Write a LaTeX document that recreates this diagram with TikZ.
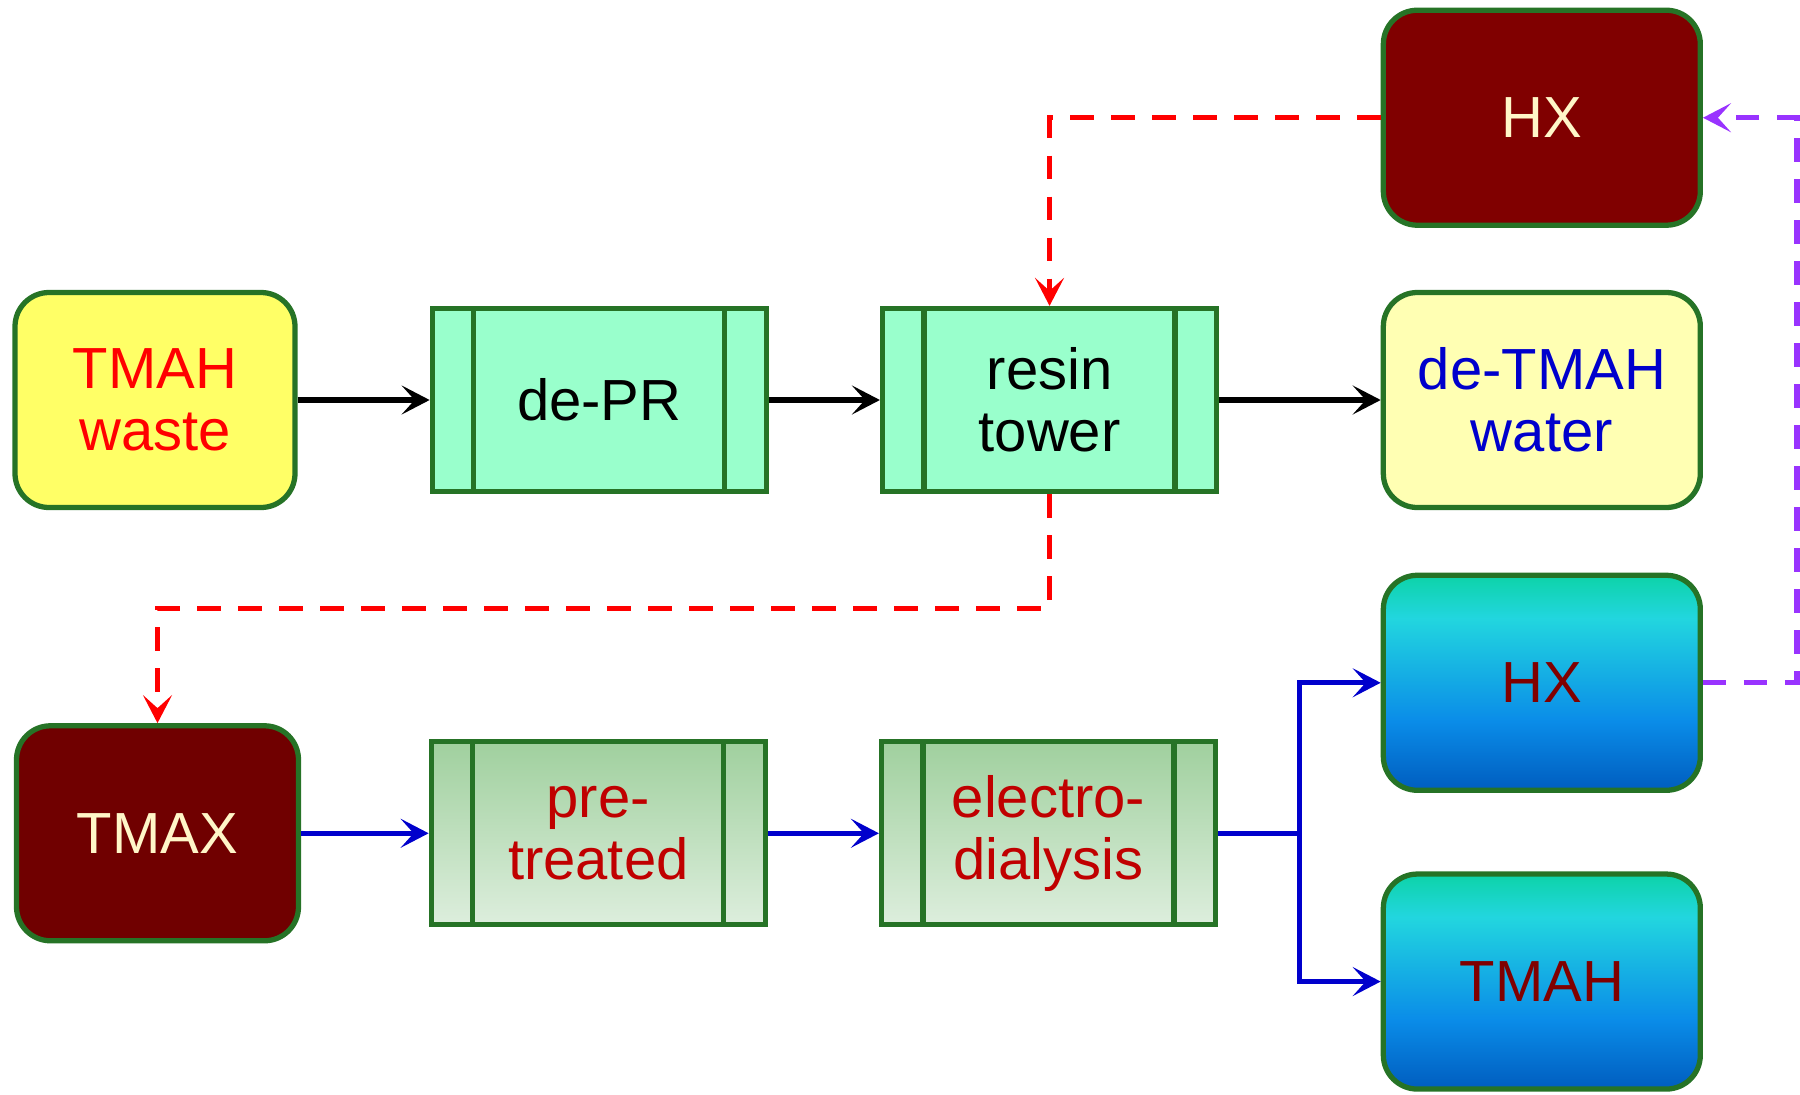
\documentclass[tikz,border=0pt]{standalone}
\usepackage{fontspec}
\setmainfont{Liberation Sans}
\usetikzlibrary{positioning,arrows.meta}

\definecolor{edgegreen}{HTML}{267326}
\definecolor{wasteyellow}{HTML}{FFFF66}
\definecolor{mint}{HTML}{99FFCC}
\definecolor{paleyellow}{HTML}{FFFFB3}
\definecolor{hxred}{HTML}{800000}
\definecolor{tmaxred}{HTML}{700000}
\definecolor{cream}{HTML}{FFF6C8}
\definecolor{procred}{HTML}{C00000}
\definecolor{treattop}{HTML}{A0D09E}
\definecolor{treatbot}{HTML}{DDEEDD}
\definecolor{flowblue}{HTML}{0000CC}
\definecolor{backpurple}{HTML}{9933FF}
\definecolor{bluebot}{HTML}{005DBF}
\definecolor{bluemid}{HTML}{0A8CE8}
\definecolor{bluecyan}{HTML}{22D6DF}
\definecolor{blueteal}{HTML}{0DD3A8}
\pgfdeclareverticalshading{blueshade}{100bp}{color(0bp)=(bluebot); color(25bp)=(bluebot); color(41bp)=(bluemid); color(65bp)=(bluecyan); color(75bp)=(blueteal); color(100bp)=(blueteal)}

\begin{document}
\begin{tikzpicture}[node distance=2.22cm, font=\fontsize{33}{35}\selectfont,
  rbox/.style={draw=edgegreen, line width=3pt, rounded corners=0.68cm, align=center, minimum width=6.34cm, minimum height=4.3cm},
  pbox/.style={draw=edgegreen, line width=3pt, align=center, minimum width=6.68cm, minimum height=3.66cm,
    path picture={\draw[edgegreen, line width=3pt]
      ([xshift=0.83cm]path picture bounding box.north west) -- ([xshift=0.83cm]path picture bounding box.south west)
      ([xshift=-0.83cm]path picture bounding box.north east) -- ([xshift=-0.83cm]path picture bounding box.south east);}},
  treatbox/.style={pbox, top color=treattop, bottom color=treatbot, text=procred},
  coolbox/.style={rbox, shading=blueshade, text=hxred},
  arr/.style={-{Stealth[length=0.56cm, width=0.58cm, inset=0.26cm]}, line width=2.9pt},
  dsh/.style={arr, line width=3pt, dash pattern=on 0.47cm off 0.35cm}]
\useasboundingbox (0,0) rectangle (36,-21.88);
% upper line
\node[rbox, fill=wasteyellow, text=red, minimum width=5.6cm] (waste) at (3.1,-8.0) {TMAH\\waste};
\node[pbox, fill=mint, right=2.64cm of waste] (depr) {de-PR};
\node[pbox, fill=mint, right=of depr] (resin) {resin\\tower};
\node[rbox, fill=paleyellow, text=flowblue, right=3.23cm of resin] (water) {de-TMAH\\water};
\node[rbox, fill=hxred, text=cream, above=1.24cm of water] (hxtop) {HX};
\draw[arr] (waste) -- (depr);
\draw[arr] (depr) -- (resin);
\draw[arr] (resin) -- (water);
% lower line
\node[rbox, fill=tmaxred, text=cream, minimum width=5.64cm, below=4.26cm of waste, xshift=0.05cm] (tmax) {TMAX};
\node[treatbox, right=2.55cm of tmax] (pre) {pre-\\treated};
\node[treatbox, right=of pre] (ed) {electro-\\dialysis};
\node[coolbox, below=1.25cm of water] (hxlow) {HX};
\node[coolbox, below=1.57cm of hxlow] (tmah) {TMAH};
\draw[arr, flowblue] (tmax) -- (pre);
\draw[arr, flowblue] (pre) -- (ed);
\draw[arr, flowblue] (ed.east) -- ++(1.62,0) |- (hxlow.west);
\draw[arr, flowblue] (ed.east) -- ++(1.62,0) |- (tmah.west);
% recycle loops
\draw[dsh, red] (hxtop.west) -| (resin.north);
\draw[dsh, red] (resin.south) -- ++(0,-2.28) -| (tmax.north);
\draw[dsh, backpurple] (hxlow.east) -- ++(1.88,0) |- (hxtop.east);
\end{tikzpicture}
\end{document}
